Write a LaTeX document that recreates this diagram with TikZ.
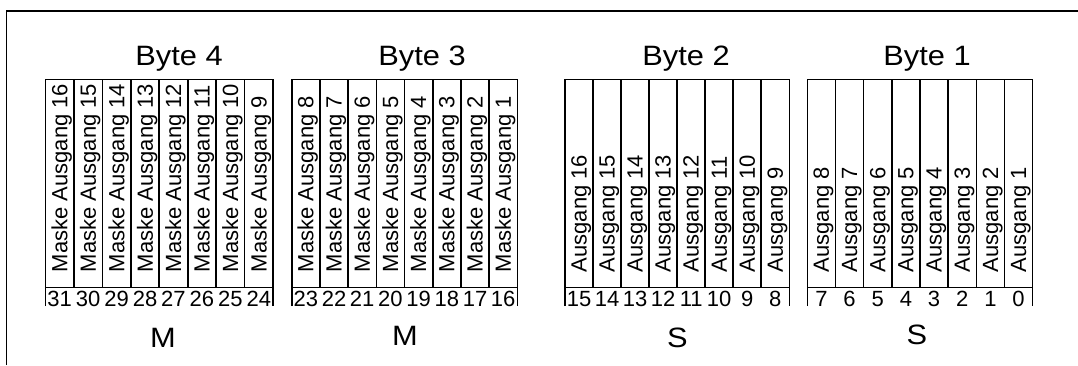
\documentclass[tikz,border=0pt]{standalone}
\usepackage{fontspec}
\setmainfont{Liberation Sans}
\newfontfamily\widesans[FakeStretch=1.1]{Liberation Sans}
\usetikzlibrary{positioning}

\begin{document}
\begin{tikzpicture}[x=1pt, y=-1pt, line width=1.6pt,
    bitlabel/.style={rotate=90, anchor=base west, inner sep=0pt,
        font=\fontsize{22}{24}\selectfont},
    bitnum/.style={anchor=base, inner sep=0pt, font=\fontsize{22}{24}\selectfont},
    bytetitle/.style={anchor=base, inner sep=0pt, font=\widesans\fontsize{28}{32}\selectfont}]
\useasboundingbox (0,0) rectangle (1078,365);

% frame
\draw[line width=1.4pt] (6.5,365) -- (6.5,11) -- (1078,11);

% one register byte per pass: left x, column width, title x, mode letter, letter pos, ...
\foreach \x/\w/\tx/\k/\md/\mx/\my/\pre/\first/\nfirst in {
    45.5/28.44/179/4/M/163/347/Maske Ausgang/16/31,
    291.7/28.2/422/3/M/405/345/Maske Ausgang/8/23,
    565/28.04/686/2/S/677.5/347/Ausgang/16/15,
    807.3/28.17/927/1/S/917/344/Ausgang/8/7}
{
    \node[bytetitle] (byte\k) at (\tx,65) {Byte \k};
    \node[bytetitle] (mode\k) at (\mx,\my) {\md};

    \draw (\x,306) -- (\x,79.5) -- ({\x+8*\w},79.5) -- ({\x+8*\w},306);
    \draw (\x,287.5) -- ({\x+8*\w},287.5);
    \foreach \i in {1,...,7}
        \draw ({\x+\i*\w},79.5) -- ({\x+\i*\w},287.5);

    \foreach \i in {0,...,7} {
        \pgfmathtruncatemacro\n{\first-\i}
        \pgfmathtruncatemacro\m{\nfirst-\i}
        \node[bitlabel] (lab\k-\i) at ({\x+(\i+1)*\w-6.5},273) {\pre\ \n};
        \node[bitnum] (num\k-\i) at ({\x+(\i+0.5)*\w},306.5) {\m};
    }
}
\end{tikzpicture}
\end{document}
